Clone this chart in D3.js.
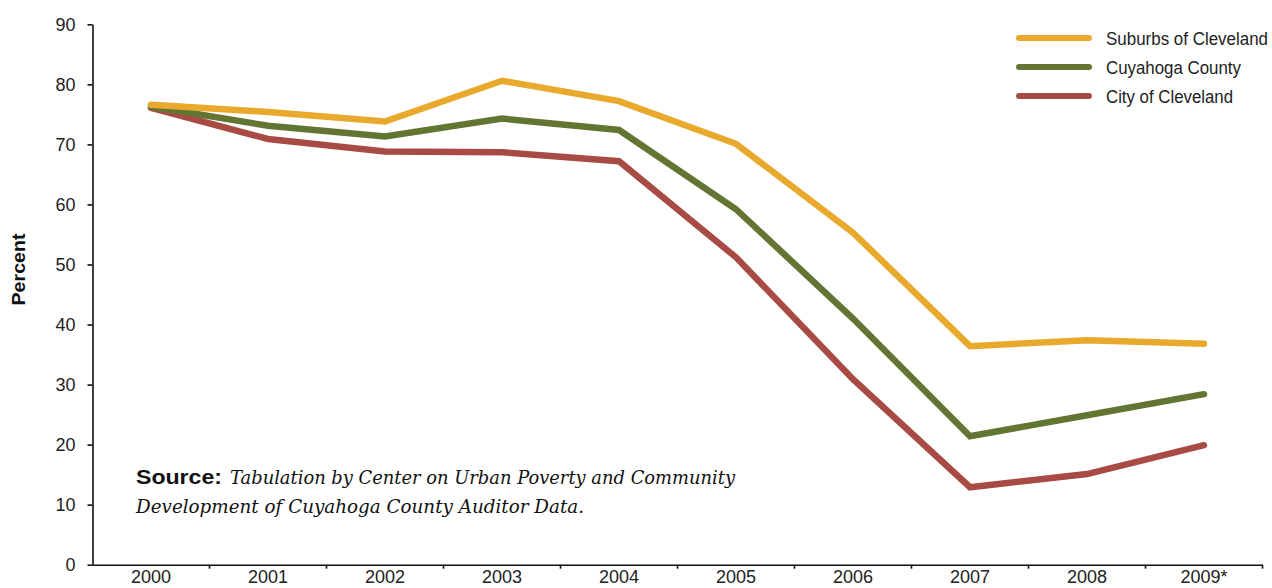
<!DOCTYPE html>
<html><head><meta charset="utf-8">
<script src="https://cdn.jsdelivr.net/npm/d3@7"></script>
<style>
body{margin:0;background:#fff;}
svg{display:block;}
</style></head>
<body><svg width="1272" height="588"></svg>
<script>
const years = ["2000","2001","2002","2003","2004","2005","2006","2007","2008","2009*"];
const suburbs = [76.6,75.4,73.8,80.6,77.2,70.1,55.3,36.4,37.4,36.8];
const cuyahoga = [76.3,73.1,71.3,74.3,72.4,59.2,41.0,21.4,24.9,28.4];
const city = [76.1,70.9,68.8,68.7,67.2,51.2,30.9,12.9,15.1,19.9];
const seriesNames = ["Suburbs of Cleveland","Cuyahoga County","City of Cleveland"];
const seriesColors = ["#E8A92C","#637533","#A84B44"];
const yTicks = [0,10,20,30,40,50,60,70,80,90];
const FONT = "'Liberation Sans',Arial,sans-serif";

const svg = d3.select("svg");
const x = d3.scaleBand().domain(years).range([92.5,1262.5]);
const y = d3.scaleLinear().domain([0,90]).range([564.7,24.3]);

function styleTicks(sel){
  sel.style("font-family",FONT).style("font-size","18px").style("fill","#222");
}

// y axis
const ya = svg.append("g").attr("transform","translate(92.5,0)")
  .call(d3.axisLeft(y).tickValues(yTicks).tickSize(5).tickPadding(12).tickSizeOuter(0));
ya.select(".domain").attr("stroke","#111").attr("stroke-width",1.6);
ya.selectAll(".tick line").attr("stroke","#111").attr("stroke-width",1.6);
ya.selectAll(".tick text").call(styleTicks).attr("x",-17);

// x axis
const xa = svg.append("g").attr("transform","translate(0,564.7)")
  .call(d3.axisBottom(x).tickSize(0).tickPadding(6).tickSizeOuter(0));
xa.select(".domain").attr("stroke","#111").attr("stroke-width",1.6);
xa.selectAll(".tick text").call(styleTicks);
const bounds = years.slice(1).map(d=>x(d)).concat([x.range()[1]]);
xa.selectAll(".bt").data(bounds).enter().append("line")
  .attr("x1",d=>d).attr("x2",d=>d).attr("y1",0).attr("y2",4)
  .attr("stroke","#111").attr("stroke-width",1.6);

// lines (city first, suburbs on top)
const line = d3.line().x((d,i)=>x(years[i])+x.bandwidth()/2).y(d=>y(d));
[[city,2],[cuyahoga,1],[suburbs,0]].forEach(([s,k])=>{
  svg.append("path").datum(s).attr("d",line).attr("fill","none")
    .attr("stroke",seriesColors[k]).attr("stroke-width",6.5)
    .attr("stroke-linecap","round").attr("stroke-linejoin","miter");
});

// legend
const legW = [162,135,127];
seriesNames.forEach((n,k)=>{
  const yy = 38 + k*29;
  svg.append("line").attr("x1",1019).attr("x2",1089).attr("y1",yy).attr("y2",yy)
    .attr("stroke",seriesColors[k]).attr("stroke-width",6).attr("stroke-linecap","round");
  svg.append("text").attr("x",1106).attr("y",yy+6.5)
    .style("font-family",FONT).style("font-size","17.5px").style("fill","#222")
    .attr("textLength",legW[k]).attr("lengthAdjust","spacingAndGlyphs").text(n);
});

// y label
svg.append("text").attr("transform","translate(25,269.5) rotate(-90)")
  .attr("text-anchor","middle").attr("textLength",72).attr("lengthAdjust","spacingAndGlyphs")
  .style("font-family",FONT)
  .style("font-weight","bold").style("font-size","19px").style("fill","#111").text("Percent");

// source note
svg.append("text").attr("x",136).attr("y",484)
  .attr("textLength",86).attr("lengthAdjust","spacingAndGlyphs")
  .style("font-family",FONT)
  .style("font-weight","bold").style("font-size","20px").style("fill","#111").text("Source:");
svg.append("text").attr("x",230).attr("y",484)
  .attr("textLength",505).attr("lengthAdjust","spacingAndGlyphs")
  .style("font-family","'DejaVu Serif','Liberation Serif',serif")
  .style("font-style","italic").style("font-size","19px").style("fill","#111")
  .text("Tabulation by Center on Urban Poverty and Community");
svg.append("text").attr("x",136).attr("y",513)
  .attr("textLength",448).attr("lengthAdjust","spacingAndGlyphs")
  .style("font-family","'DejaVu Serif','Liberation Serif',serif")
  .style("font-style","italic").style("font-size","19px").style("fill","#111")
  .text("Development of Cuyahoga County Auditor Data.");
</script></body></html>
